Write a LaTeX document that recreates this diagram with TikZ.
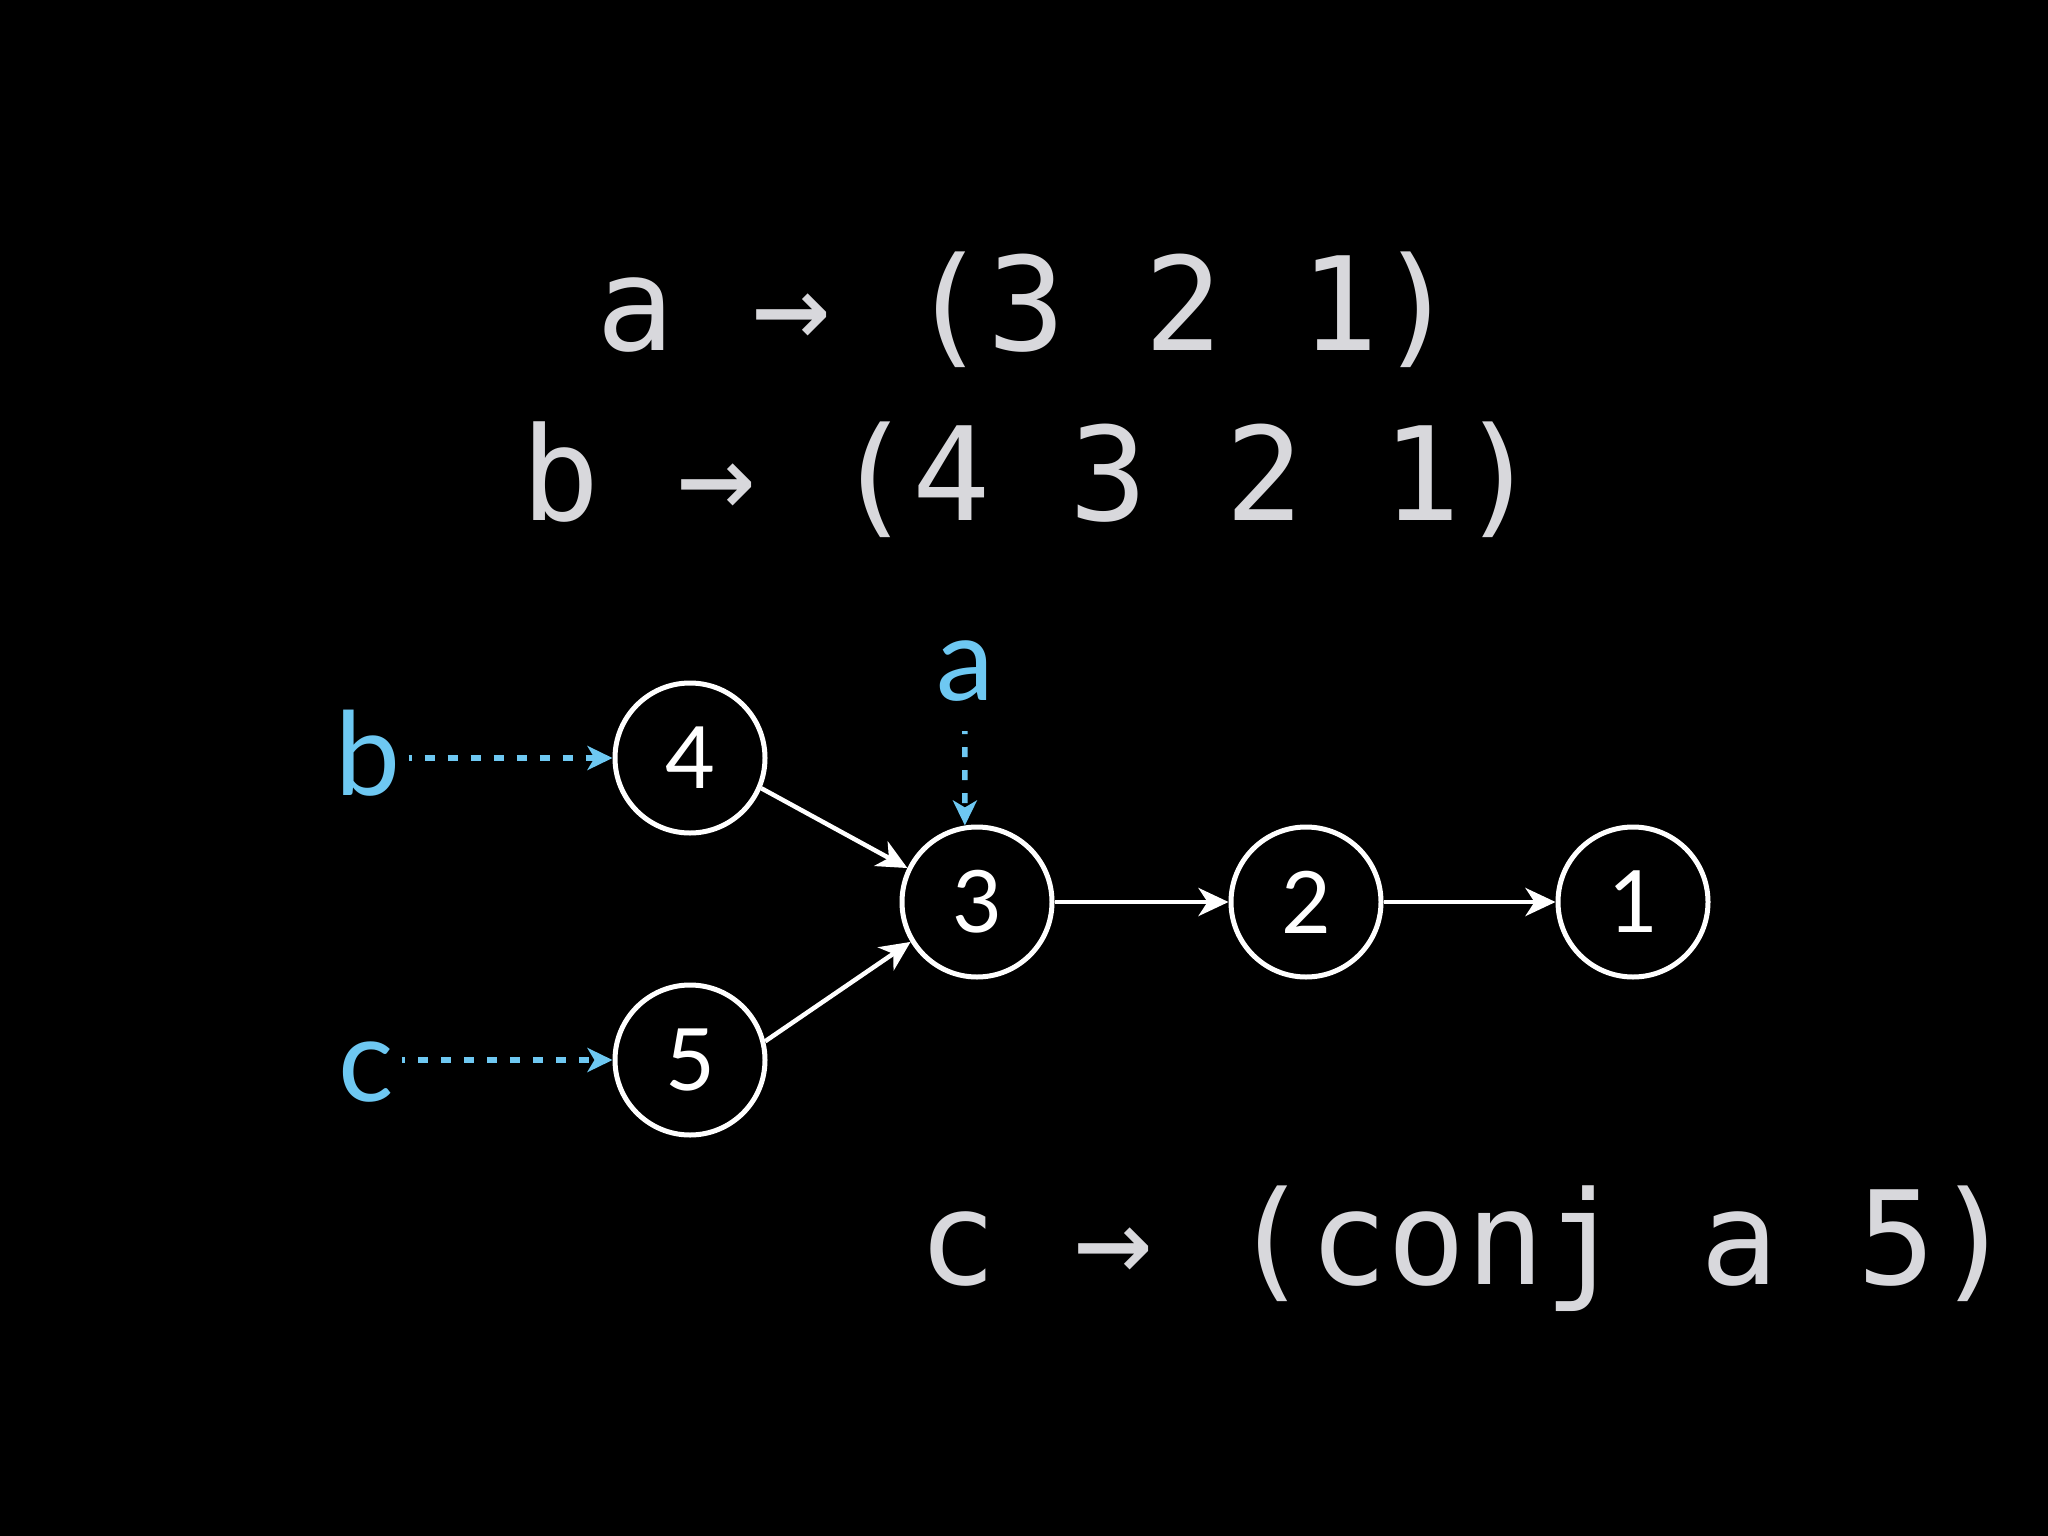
\documentclass[tikz,border=0pt]{standalone}
\usepackage{fontspec}
\setmainfont{Lato}
\newfontfamily\codefont{DejaVu Sans Mono}
\usetikzlibrary{arrows.meta}
\definecolor{codegray}{RGB}{216,216,220}
\definecolor{ptrblue}{RGB}{110,200,242}
\begin{document}
\begin{tikzpicture}[x=1pt,y=-1pt,
  codetext/.style={text=codegray,inner sep=0pt,anchor=base west,
    font=\codefont\fontsize{130}{130}\selectfont},
  cnode/.style={circle,draw=white,line width=5pt,minimum size=150pt,inner sep=0pt,
    text=white,font=\fontsize{86}{86}\selectfont},
  plabel/.style={text=ptrblue,inner sep=0pt,anchor=base,
    font=\fontsize{116}{116}\selectfont},
  link/.style={draw=white,line width=4.5pt,
    -{Stealth[length=30pt,width=28pt,inset=9pt]}},
  ptr/.style={draw=ptrblue,line width=5.5pt,dash pattern=on 10pt off 13pt,dash phase=7pt,
    -{Stealth[length=25pt,width=24pt,inset=7pt,sep=0pt]}}]
\fill[black] (0,0) rectangle (2048,1536);
\useasboundingbox (0,0) rectangle (2048,1536);
% code lines
\node[codetext] (ta) at (596,350) {a → (3 2 1)};
\node[codetext] (tb) at (521,520) {b → (4 3 2 1)};
\node[codetext] (tc) at (918,1284) {c → (conj a 5)};
% nodes
\node[cnode] (n4) at (690,758) {4};
\node[cnode] (n5) at (690,1060) {5};
\node[cnode] (n3) at (977,902) {3};
\node[cnode] (n2) at (1306,902) {2};
\node[cnode] (n1) at (1633,902) {1};
% pointer labels
\node[plabel] (lb) at (368,795) {b};
\node[plabel] (lc) at (366,1101) {c};
\node[plabel] (la) at (965,700) {a};
% links
\draw[link] (n4.-23) -- (n3.154);
\draw[link] (n5.14) -- (n3.211);
\draw[link] (n3) -- (n2);
\draw[link] (n2) -- (n1);
% pointers
\draw[ptr] ([xshift=8pt]lb.east |- n4.west) -- (n4.west);
\draw[ptr] ([xshift=8pt]lc.east |- n5.west) -- (n5.west);
\draw[ptr,shorten <=30pt] (la.south) -- (n3.99);
\end{tikzpicture}
\end{document}
